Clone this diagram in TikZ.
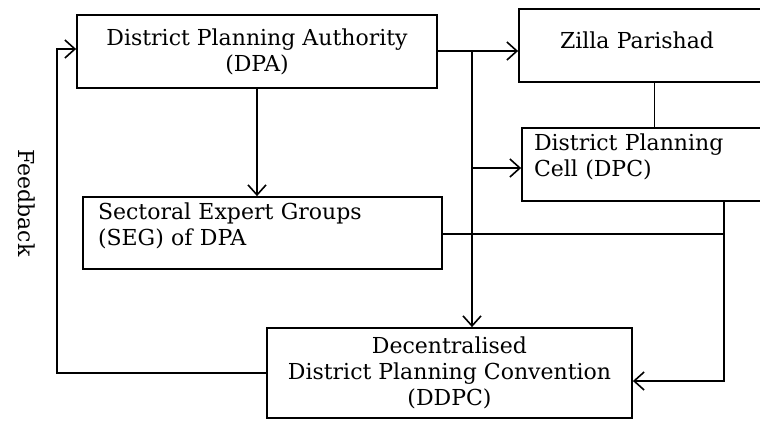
\documentclass[tikz,border=0pt]{standalone}
\usepackage{fontspec}
\setmainfont{DejaVu Serif}
\usetikzlibrary{positioning,arrows.meta}

\begin{document}
\begin{tikzpicture}[x=0.5pt,y=-0.5pt,
    line width=0.9pt,
    box/.style={draw, line width=0.9pt, inner sep=0pt,
      font=\fontsize{11}{13}\selectfont},
    flow/.style={-{Straight Barb[length=5pt,width=9pt,line width=0.8pt]}}]
  \clip (0,0) rectangle (760,420);
  \fill[white] (0,0) rectangle (760,420);
  % boxes
  \node[box, minimum width=180pt, minimum height=36.5pt, align=center]
    (dpa) at (257,51.5) {District Planning Authority\\(DPA)};
  \node[box, minimum width=135.5pt, minimum height=36.5pt, text width=120pt,
    align=left] (zp) at (654.5,45.5)
    {\hspace*{12.75pt}\raisebox{2.75pt}[\height][\depth]{Zilla Parishad}};
  \node[box, minimum width=134pt, minimum height=36.5pt, text width=122pt,
    align=left] (dpc) at (656,164.5) {District Planning\\Cell (DPC)\\[-4pt]\mbox{}};
  \node[box, minimum width=179.5pt, minimum height=36pt, text width=164.5pt,
    align=left] (seg) at (262.5,233) {Sectoral Expert Groups\\(SEG) of DPA\\[-4pt]\mbox{}};
  \node[box, minimum width=182.5pt, minimum height=45pt, align=center]
    (ddpc) at (449.5,373) {Decentralised\\District Planning Convention\\(DDPC)};
  \node[rotate=-90, font=\fontsize{11}{13}\selectfont] (fbtext) at (27,203) {Feedback};
  % junction points
  \coordinate (trunk) at (472,51);
  \coordinate (drop) at (724,381);
  \coordinate (fb) at (57,49);
  % connectors
  \draw[flow] (dpa.east |- trunk) -- (trunk -| zp.west);
  \draw[flow] (trunk) -- (trunk |- ddpc.north);
  \draw[flow] (trunk |- 0,168) -- (dpc.west |- 0,168);
  \draw[flow] (dpa.south) -- (dpa.south |- seg.north);
  \draw (zp.south) -- (zp.south |- dpc.north);
  \draw (seg.east |- 0,234) -- (drop |- 0,234);
  \draw[flow] (dpc.south -| drop) -- (drop) -- (drop -| ddpc.east);
  \draw[flow] (ddpc.west) -| (fb) -- (fb -| dpa.west);
\end{tikzpicture}
\end{document}
